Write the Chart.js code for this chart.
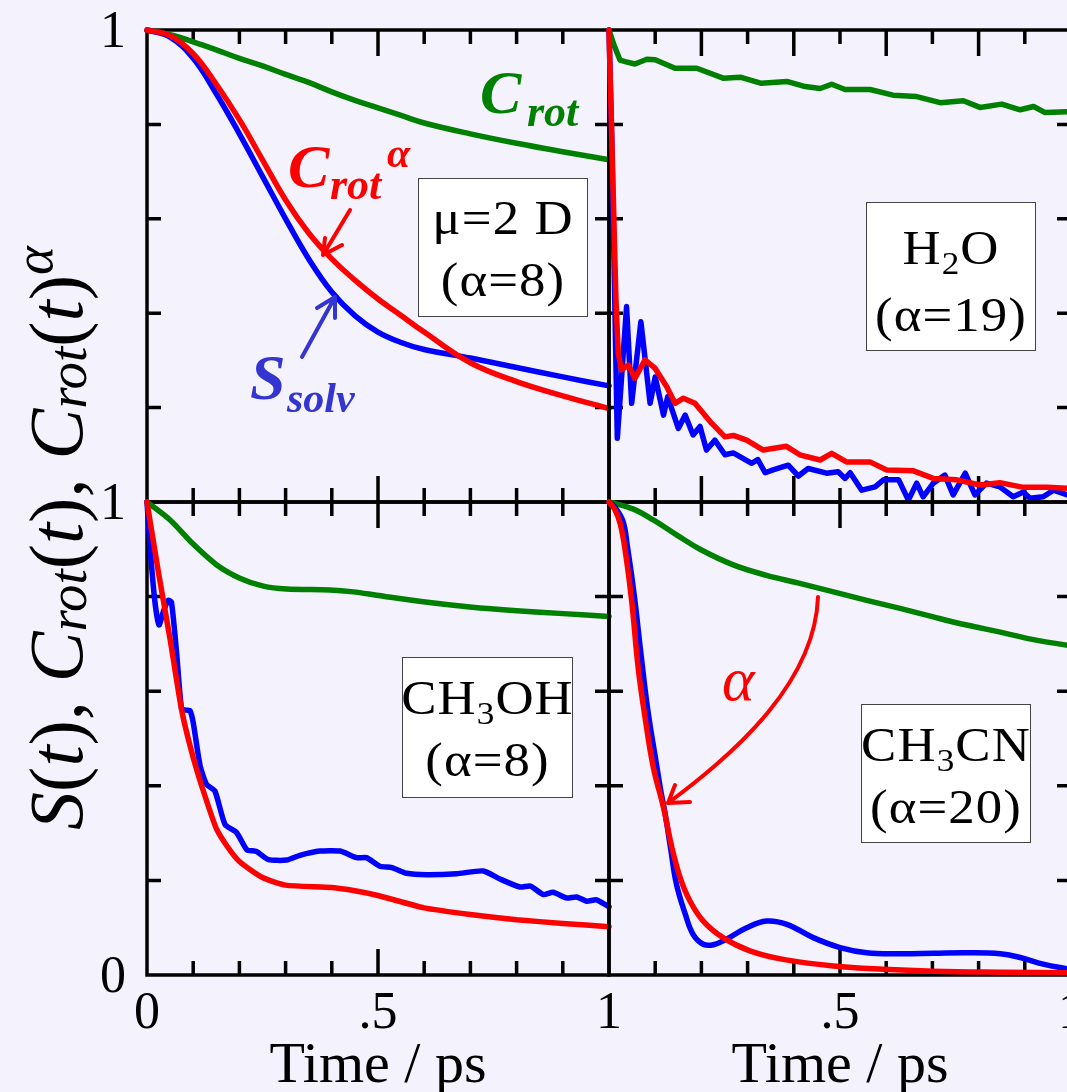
<!DOCTYPE html>
<html>
<head>
<meta charset="utf-8">
<script src="https://cdn.jsdelivr.net/npm/chart.js@4.4.1/dist/chart.umd.min.js"></script>
<style>
  html, body { margin: 0; padding: 0; width: 1067px; height: 1092px; overflow: hidden; background: #f4f2fd; }
  canvas { position: absolute; left: 0; top: 0; }
  .t { position: absolute; font-family: 'Liberation Serif', serif; line-height: 1; white-space: nowrap; }
  .bi { font-weight: bold; font-style: italic; }
  .box { position: absolute; background: #fff; border: 1.5px solid #444; box-sizing: border-box; }
  .box .ln { position: absolute; left: 0; width: 100%; text-align: center; font-size: 48px; letter-spacing: 1px; transform: scaleX(1.1); }
  .box sub { font-size: 32px; line-height: 0; vertical-align: -0.3em; }
  #ytitle { left: 56px; top: 538px; font-size: 76px; transform: translate(-50%, -50%) rotate(-90deg); }
  #ytitle i { font-style: italic; }
  #ytitle sub, #ytitle sup { font-size: 55px; line-height: 0; font-style: italic; }
  #ytitle sub { vertical-align: -0.08em; }
  #ytitle sup { vertical-align: 0.55em; }
</style>
</head>
<body>
<canvas id="tl" width="1100" height="1092" style="width:1100px;height:1092px"></canvas>
<canvas id="tr" width="1100" height="1092" style="width:1100px;height:1092px"></canvas>
<canvas id="bl" width="1100" height="1092" style="width:1100px;height:1092px"></canvas>
<canvas id="br" width="1100" height="1092" style="width:1100px;height:1092px"></canvas>

<svg width="1067" height="1092" style="position:absolute;left:0;top:0" fill="none" stroke-linecap="round" stroke-linejoin="round">
  <path d="M350,210 L323,255 M325,238 L323,255 L342,245" stroke="#ff0000" stroke-width="4"/>
  <path d="M302,357 L335,297 M317,308 L335,297 L335,318" stroke="#3434d0" stroke-width="4"/>
  <path d="M818,597 C815,680 740,750 668,803 M675,785 L668,803 L690,802" stroke="#ff0000" stroke-width="4"/>
</svg>

<!-- curve labels -->
<div class="t bi" style="left:480px;top:61px;font-size:62px;color:#008000">C</div>
<div class="t bi" style="left:527px;top:90px;font-size:44px;color:#008000">rot</div>
<div class="t bi" style="left:288px;top:135px;font-size:62px;color:#ff0000">C</div>
<div class="t bi" style="left:330px;top:163px;font-size:44px;color:#ff0000">rot</div>
<div class="t bi" style="left:387px;top:132px;font-size:42px;color:#ff0000">α</div>
<div class="t bi" style="left:250px;top:346px;font-size:64px;color:#3434d0">S</div>
<div class="t bi" style="left:287px;top:377px;font-size:42px;color:#3434d0">solv</div>
<div class="t" style="left:722px;top:648px;font-size:62px;font-style:italic;color:#ff0000">α</div>

<!-- solvent boxes -->
<div class="box" style="left:418px;top:178px;width:170px;height:139px">
  <div class="t ln" style="top:15px">μ=2 D</div>
  <div class="t ln" style="top:77px">(α=8)</div>
</div>
<div class="box" style="left:866px;top:202px;width:170px;height:149px">
  <div class="t ln" style="top:21px">H<sub>2</sub>O</div>
  <div class="t ln" style="top:88px">(α=19)</div>
</div>
<div class="box" style="left:402px;top:657px;width:171px;height:141px">
  <div class="t ln" style="top:16px">CH<sub>3</sub>OH</div>
  <div class="t ln" style="top:78px">(α=8)</div>
</div>
<div class="box" style="left:861px;top:704px;width:170px;height:139px">
  <div class="t ln" style="top:16px">CH<sub>3</sub>CN</div>
  <div class="t ln" style="top:78px">(α=20)</div>
</div>

<div id="ytitle" class="t"><i>S</i>(<i>t</i>), <i>C</i><sub>rot</sub>(<i>t</i>), <i>C</i><sub>rot</sub>(<i>t</i>)<sup>α</sup></div>

<script>
// tick labels
const timeTickValues = [0, 0.5, 1];
const timeTickLabels = ['0', '.5', '1'];
const valueTickValues = [0, 1];
const valueTickLabels = ['0', '1'];

// mu = 2 D model solvent (top left)
const tlTime = [0, 0.05, 0.1, 0.15, 0.2, 0.25, 0.3, 0.35, 0.4, 0.45, 0.5, 0.55, 0.6, 0.7, 0.8, 0.9, 1.0];
const tlCrot = [1, 0.99, 0.975, 0.958, 0.94, 0.924, 0.906, 0.889, 0.869, 0.851, 0.835, 0.819, 0.803, 0.78, 0.76, 0.742, 0.725];
const tlCrotA = [1, 0.988, 0.95, 0.885, 0.81, 0.725, 0.64, 0.57, 0.515, 0.47, 0.43, 0.395, 0.36, 0.295, 0.255, 0.225, 0.198];
const tlSsolv = [1, 0.985, 0.94, 0.865, 0.78, 0.69, 0.6, 0.515, 0.445, 0.395, 0.36, 0.338, 0.323, 0.305, 0.285, 0.265, 0.246];

// H2O (top right)
const trCrotTime = [0, 0.012, 0.024, 0.035, 0.056, 0.082, 0.1, 0.143, 0.19, 0.247, 0.284, 0.33, 0.385, 0.421, 0.457, 0.482, 0.511, 0.565, 0.615, 0.666, 0.717, 0.767, 0.803, 0.85, 0.89, 0.919, 0.944, 0.992, 1.0];
const trCrot = [1, 0.965, 0.936, 0.933, 0.928, 0.938, 0.937, 0.919, 0.919, 0.898, 0.9, 0.887, 0.891, 0.881, 0.876, 0.885, 0.874, 0.874, 0.862, 0.859, 0.846, 0.85, 0.836, 0.843, 0.831, 0.838, 0.825, 0.827, 0.827];
const trCrotATime = [0, 0.005, 0.01, 0.015, 0.02, 0.027, 0.042, 0.056, 0.078, 0.1, 0.125, 0.143, 0.161, 0.186, 0.222, 0.251, 0.269, 0.298, 0.334, 0.384, 0.413, 0.457, 0.482, 0.514, 0.565, 0.601, 0.659, 0.702, 0.753, 0.803, 0.846, 0.897, 0.948, 0.992, 1.0];
const trCrotA = [1, 0.81, 0.62, 0.43, 0.315, 0.28, 0.29, 0.262, 0.301, 0.283, 0.244, 0.209, 0.22, 0.209, 0.167, 0.138, 0.141, 0.131, 0.11, 0.118, 0.1, 0.089, 0.103, 0.085, 0.085, 0.068, 0.066, 0.05, 0.047, 0.036, 0.041, 0.031, 0.031, 0.029, 0.029];
const trSsolvTime = [0, 0.006, 0.012, 0.018, 0.038, 0.049, 0.069, 0.089, 0.1, 0.118, 0.127, 0.15, 0.165, 0.182, 0.197, 0.211, 0.229, 0.251, 0.269, 0.309, 0.322, 0.338, 0.355, 0.388, 0.41, 0.431, 0.471, 0.496, 0.511, 0.522, 0.547, 0.576, 0.594, 0.627, 0.648, 0.666, 0.68, 0.702, 0.727, 0.745, 0.771, 0.792, 0.817, 0.846, 0.875, 0.897, 0.911, 0.94, 0.962, 0.992, 1.0];
const trSsolv = [1, 0.77, 0.45, 0.135, 0.414, 0.209, 0.382, 0.209, 0.265, 0.184, 0.223, 0.156, 0.184, 0.142, 0.16, 0.11, 0.131, 0.1, 0.104, 0.082, 0.09, 0.062, 0.068, 0.078, 0.055, 0.071, 0.061, 0.064, 0.05, 0.062, 0.025, 0.032, 0.047, 0.047, 0.004, 0.04, 0.011, 0.04, 0.057, 0.015, 0.061, 0.015, 0.04, 0.032, 0.011, 0.021, 0.008, 0.011, 0.025, 0.015, 0.015];

// CH3OH (bottom left)
const blCrotTime = [0, 0.05, 0.1, 0.151, 0.201, 0.252, 0.302, 0.396, 0.447, 0.497, 0.598, 0.699, 0.8, 0.901, 1.0];
const blCrot = [1, 0.962, 0.911, 0.867, 0.839, 0.822, 0.816, 0.814, 0.81, 0.803, 0.789, 0.778, 0.77, 0.764, 0.758];
const blCrotATime = [0, 0.025, 0.05, 0.075, 0.1, 0.125, 0.15, 0.175, 0.2, 0.25, 0.3, 0.4, 0.45, 0.5, 0.6, 0.7, 0.8, 0.9, 1.0];
const blCrotA = [1, 0.85, 0.71, 0.56, 0.46, 0.38, 0.31, 0.27, 0.24, 0.206, 0.19, 0.185, 0.178, 0.168, 0.142, 0.128, 0.117, 0.109, 0.102];
const blSsolvTime = [0, 0.007, 0.017, 0.026, 0.036, 0.046, 0.053, 0.064, 0.075, 0.085, 0.093, 0.1, 0.115, 0.129, 0.147, 0.169, 0.194, 0.216, 0.237, 0.263, 0.302, 0.331, 0.374, 0.418, 0.454, 0.475, 0.504, 0.53, 0.562, 0.605, 0.67, 0.728, 0.764, 0.807, 0.83, 0.858, 0.879, 0.908, 0.93, 0.952, 0.973, 1.0];
const blSsolv = [1, 0.9, 0.79, 0.74, 0.77, 0.792, 0.788, 0.682, 0.562, 0.56, 0.559, 0.534, 0.442, 0.403, 0.389, 0.318, 0.301, 0.265, 0.261, 0.244, 0.243, 0.253, 0.262, 0.262, 0.248, 0.248, 0.23, 0.227, 0.215, 0.212, 0.214, 0.22, 0.203, 0.186, 0.188, 0.17, 0.175, 0.163, 0.165, 0.156, 0.159, 0.144];

// CH3CN (bottom right)
const brCrotTime = [0, 0.053, 0.096, 0.147, 0.197, 0.269, 0.341, 0.413, 0.486, 0.558, 0.63, 0.702, 0.774, 0.847, 0.919, 1.0];
const brCrot = [1, 0.985, 0.962, 0.93, 0.9, 0.867, 0.845, 0.828, 0.81, 0.792, 0.775, 0.757, 0.74, 0.725, 0.709, 0.696];
const brCrotATime = [0, 0.012, 0.024, 0.035, 0.049, 0.063, 0.078, 0.096, 0.118, 0.136, 0.154, 0.175, 0.204, 0.247, 0.305, 0.377, 0.486, 0.594, 0.702, 0.847, 1.0];
const brCrotA = [1, 0.985, 0.955, 0.898, 0.792, 0.651, 0.545, 0.439, 0.354, 0.27, 0.206, 0.157, 0.114, 0.079, 0.051, 0.033, 0.019, 0.012, 0.008, 0.006, 0.005];
const brSsolvTime = [0, 0.012, 0.03, 0.04, 0.055, 0.069, 0.084, 0.102, 0.112, 0.121, 0.133, 0.146, 0.165, 0.182, 0.204, 0.226, 0.255, 0.298, 0.341, 0.385, 0.442, 0.5, 0.558, 0.63, 0.702, 0.774, 0.847, 0.89, 0.94, 0.992, 1.0];
const brSsolv = [1, 0.99, 0.96, 0.905, 0.8, 0.68, 0.56, 0.45, 0.39, 0.344, 0.27, 0.192, 0.129, 0.086, 0.065, 0.064, 0.076, 0.1, 0.114, 0.107, 0.079, 0.058, 0.047, 0.045, 0.046, 0.047, 0.045, 0.037, 0.023, 0.013, 0.012];

const GREEN = '#008000', RED = '#ff0000', BLUE = '#0000ff';

// frame, inward ticks and tick labels drawn from the panel's scales
const panelFrame = {
  id: 'panelFrame',
  beforeDatasetsDraw(chart, args, o) {
    const { ctx, chartArea: a, scales: { x, y } } = chart;
    ctx.save();
    ctx.strokeStyle = '#000';
    ctx.lineWidth = 3.5;
    ctx.strokeRect(a.left, a.top, a.width, a.height);
    ctx.beginPath();
    for (let i = 1; i < 10; i++) {
      const px = x.getPixelForValue(i / 10);
      const len = (i % o.majorEvery === 0) ? 26 : 14;
      ctx.moveTo(px, a.top); ctx.lineTo(px, a.top + len);
      ctx.moveTo(px, a.bottom); ctx.lineTo(px, a.bottom - len);
    }
    for (let i = 1; i < 5; i++) {
      const py = y.getPixelForValue(i / 5);
      ctx.moveTo(a.left, py); ctx.lineTo(a.left + 14, py);
      ctx.moveTo(a.right, py); ctx.lineTo(a.right - 14, py);
    }
    ctx.stroke();

    ctx.fillStyle = '#000';
    ctx.font = '52px "Liberation Serif"';
    ctx.textAlign = 'center';
    ctx.textBaseline = 'alphabetic';
    (o.xLabels || []).forEach(i => {
      ctx.fillText(timeTickLabels[i], x.getPixelForValue(timeTickValues[i]), a.bottom + 53);
    });
    ctx.textAlign = 'right';
    (o.yLabels || []).forEach(i => {
      ctx.fillText(valueTickLabels[i], a.left - 21, y.getPixelForValue(valueTickValues[i]) + 17);
    });
    if (o.title) {
      ctx.font = '58px "Liberation Serif"';
      ctx.textAlign = 'center';
      ctx.fillText(o.title, (a.left + a.right) / 2, a.bottom + 107);
    }
    ctx.restore();
  }
};

function series(times, values, color, tension) {
  return {
    data: times.map((t, i) => ({ x: t, y: values[i] })),
    borderColor: color,
    borderWidth: 5.5,
    pointRadius: 0,
    fill: false,
    clip: false,
    tension: tension,
    borderCapStyle: 'round',
    borderJoinStyle: 'round'
  };
}

function makePanel(id, padding, datasets, frameOpts) {
  return new Chart(document.getElementById(id), {
    type: 'line',
    data: { datasets: datasets },
    options: {
      responsive: false,
      animation: false,
      devicePixelRatio: 1,
      layout: { padding: padding },
      scales: {
        x: { type: 'linear', min: 0, max: 1, display: false },
        y: { min: 0, max: 1, display: false }
      },
      plugins: {
        legend: { display: false },
        tooltip: { enabled: false },
        panelFrame: frameOpts
      }
    },
    plugins: [panelFrame]
  });
}

// first dataset is drawn on top
makePanel('tl', { left: 147, top: 30, right: 491, bottom: 590 }, [
  series(tlTime, tlCrotA, RED, 0.4),
  series(tlTime, tlSsolv, BLUE, 0.4),
  series(tlTime, tlCrot, GREEN, 0.4)
], { majorEvery: 5, yLabels: [1] });

makePanel('tr', { left: 609, top: 30, right: 29, bottom: 590 }, [
  series(trCrotATime, trCrotA, RED, 0),
  series(trSsolvTime, trSsolv, BLUE, 0),
  series(trCrotTime, trCrot, GREEN, 0)
], { majorEvery: 2 });

makePanel('bl', { left: 147, top: 502, right: 491, bottom: 117 }, [
  series(blCrotATime, blCrotA, RED, 0.2),
  series(blSsolvTime, blSsolv, BLUE, 0.2),
  series(blCrotTime, blCrot, GREEN, 0.3)
], { majorEvery: 5, xLabels: [0, 1, 2], yLabels: [0, 1], title: 'Time / ps' });

makePanel('br', { left: 609, top: 502, right: 29, bottom: 117 }, [
  series(brCrotATime, brCrotA, RED, 0.4),
  series(brSsolvTime, brSsolv, BLUE, 0.4),
  series(brCrotTime, brCrot, GREEN, 0.4)
], { majorEvery: 5, xLabels: [1, 2], title: 'Time / ps' });
</script>
</body>
</html>
